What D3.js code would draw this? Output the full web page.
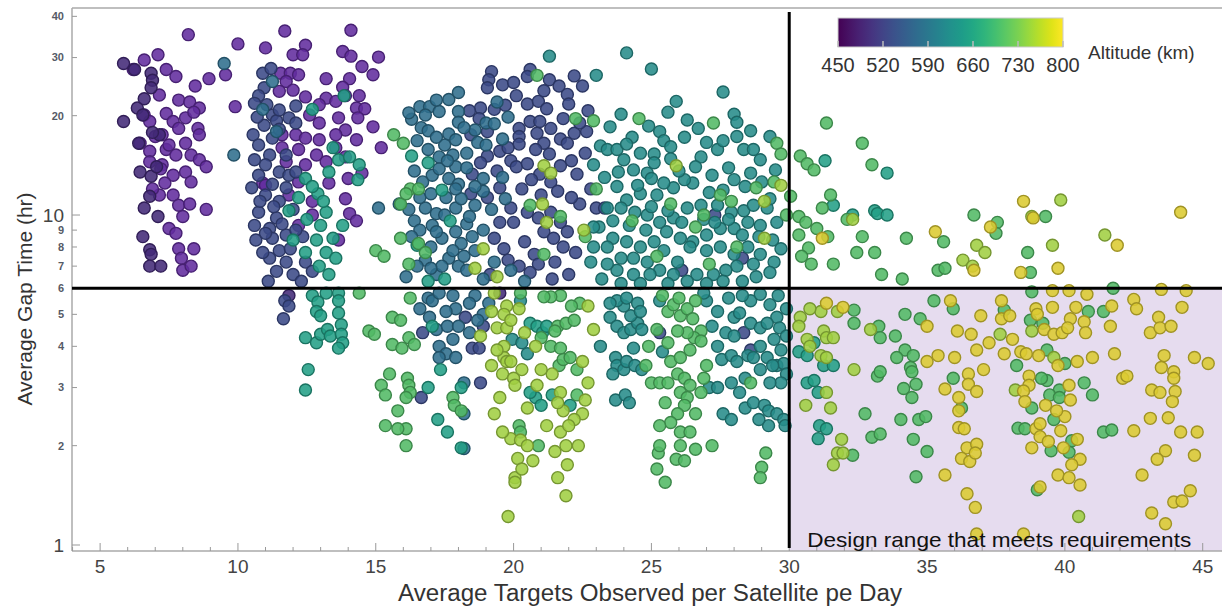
<!DOCTYPE html>
<html lang="en">
<head>
<meta charset="UTF-8">
<title>Gap time vs targets observed</title>
<script src="https://d3js.org/d3.v7.min.js"></script>
<style>
  body { margin: 0; background: #fff; }
  text { font-family: "Liberation Sans", Arial, sans-serif; }
</style>
</head>
<body>
<script>
// points as [targets per satellite per day, gap time hr], grouped by altitude (km)
var alt455 = [[8.2,35.2],[6.6,29.5],[7.1,30.6],[6.2,27.6],[7.4,27.6],[7.75,26.3],[8.95,25.9],[8.45,24.6],[7.15,23.1],[7.85,22.3],[8.25,22.0],[8.6,21.1],[6.6,20.1],[7.4,20.3],[7.65,19.2],[8.1,19.7],[8.55,18.3],[7.85,18.3],[7.0,17.3],[7.25,17.5],[8.1,16.5],[8.6,17.5],[6.8,15.6],[7.4,15.8],[7.75,15.2],[8.3,15.2],[8.6,14.7],[8.85,14.0],[6.8,14.5],[7.25,14.2],[7.65,13.2],[8.1,13.5],[8.3,12.6],[7.35,12.5],[7.15,11.5],[7.65,11.5],[7.85,10.7],[8.25,10.8],[8.85,10.4],[8.0,9.9],[7.5,9.1],[7.75,8.8],[7.85,7.9],[8.4,7.9],[7.95,7.4],[8.0,6.8],[8.3,7.0],[6.8,19.2],[6.45,16.5],[7.2,13.8],[6.9,12.0],[7.5,16.3],[8.4,20.5],
  [10.0,33.0],[11.0,32.1],[11.7,36.1],[12.45,32.7],[12.0,30.6],[12.35,30.6],[14.1,36.3],[13.8,31.3],[14.1,30.3],[15.1,30.1],[14.5,28.2],[14.9,26.6],[11.55,26.9],[11.9,26.9],[12.2,26.6],[11.75,25.4],[13.2,25.9],[14.05,25.9],[13.8,24.4],[11.5,23.7],[12.0,23.9],[12.45,22.8],[13.2,22.6],[13.55,22.1],[12.95,21.6],[13.9,23.0],[14.4,23.0],[14.3,21.1],[14.6,21.0],[9.9,21.3],[12.6,20.1],[12.95,19.0],[13.65,19.7],[14.35,19.7],[14.9,18.5],[13.9,18.1],[11.6,17.5],[12.1,17.5],[12.45,17.1],[12.95,16.9],[13.55,17.5],[14.3,16.9],[15.2,16.0],[11.6,16.0],[12.2,15.8],[12.85,15.2],[13.55,16.0],[11.75,14.5],[12.45,14.2],[13.2,14.5],[13.9,15.0],[14.5,13.4],[10.9,12.5],[12.2,12.6],[13.3,12.5],[14.0,12.9],[11.85,11.5],[12.7,11.0],[13.9,11.2],[12.7,10.0],[14.05,10.1],[14.3,9.6],[12.2,9.3],[13.65,8.4],[11.0,12.3],[9.55,26.6]];

var alt475 = [[5.85,28.8],[6.25,27.6],[6.85,26.9],[6.9,25.6],[6.85,24.3],[6.35,21.1],[6.55,20.1],[5.85,19.2],[7.15,17.5],[6.4,16.5],[6.45,13.5],[6.85,13.1],[6.8,11.4],[6.6,10.5],[7.1,9.9],[6.55,8.6],[6.8,7.85],[6.85,7.6],[6.8,7.0],[7.2,7.0],[6.9,17.8],[7.05,14.0],[6.6,22.5],[11.85,5.7],[19.5,5.8]];

var alt515 = [[10.9,26.9],[10.95,24.3],[10.75,23.0],[11.05,21.6],[11.25,20.1],[10.95,18.7],[11.4,19.3],[11.85,19.7],[10.55,17.5],[11.25,17.1],[10.75,16.3],[11.15,15.2],[11.75,15.2],[11.0,14.2],[11.5,13.5],[11.85,13.2],[10.75,13.2],[11.25,12.4],[11.75,12.1],[11.0,11.5],[11.5,11.0],[10.75,10.2],[11.4,9.8],[12.0,10.4],[11.15,9.1],[11.75,8.7],[11.25,8.5],[10.65,8.4],[11.5,7.8],[11.15,7.4],[11.75,7.2],[11.4,6.75],[12.0,6.6],[12.45,7.2],[12.35,8.6],[12.7,6.75],[11.7,5.5],[11.85,5.3],[11.65,4.85],
  [10.6,9.3],[11.0,8.8],[11.6,9.4],[12.1,9.0],[10.9,7.7],[11.9,7.9],[12.3,6.3],[11.1,6.3],[10.8,11.0],[11.3,10.6],[10.5,12.1],[12.1,13.5],[10.6,14.7],[10.7,19.8],[10.6,21.8],[11.2,27.8],[11.5,20.8],[11.5,18.2],[12.1,21.4],[12.1,19.0],
  [19.2,27.2],[19.1,25.7],[19.05,24.3],[20.6,27.6],[20.5,26.3],[21.3,25.7],[21.65,24.6],[21.95,23.2],[22.0,21.7],[22.5,24.6],[22.7,20.7],[20.1,23.0],[20.5,21.7],[20.9,22.1],[21.2,21.0],[18.8,21.1],[19.3,20.9],[18.4,20.7],[18.75,19.6],[20.2,18.3],[20.2,17.3],[20.2,16.4],[20.6,19.2],[20.95,19.2],[20.85,17.7],[21.1,16.5],[21.35,18.3],[21.7,17.0],[22.2,17.7],[21.95,16.5],[22.65,17.9],[18.45,17.5],[19.05,17.9],[19.5,15.6],[19.05,15.1],[18.8,14.4],[19.4,13.6],[18.5,13.3],[19.9,14.6],[20.1,14.0],[20.5,14.3],[20.95,13.3],[21.35,12.6],[21.6,11.8],[20.65,12.8],[20.3,12.0],[19.5,12.1],[19.05,11.3],[18.45,11.6],[19.9,10.5],[20.5,10.2],[20.9,9.8],[21.35,10.2],[21.7,9.5],[21.95,8.9],[21.1,8.9],[21.45,8.5],[21.8,8.0],[22.25,7.7],[19.5,9.5],[19.3,8.5],[19.65,7.9],[20.4,8.3],[20.75,7.6],[20.0,9.5],[21.7,14.1],[22.1,14.6],[19.15,6.6],[21.0,11.5],[23.0,10.5],[23.3,10.5],
  [20.2,7.0],[20.9,7.1],[21.5,7.2],[22.0,6.6],[21.4,6.4],[20.6,6.7],[19.8,7.3],[22.4,10.8],[22.3,13.3],[22.8,12.0],[22.1,11.3],[22.6,15.4],[21.3,15.3],[20.8,15.8],[19.8,16.0],[21.8,19.6],[22.4,19.0],[19.7,21.5],[19.6,24.8],[21.1,23.8],[22.2,26.4],[20.0,25.2],
  [18.25,4.9],[18.9,4.6],[18.5,3.95],[18.75,3.95],[18.8,3.1],[25.3,4.4],[16.65,2.8],[16.7,4.4],[28.35,4.4],[28.6,3.9],[27.3,10.0],[26.1,6.8],[28.3,7.4]];

var alt570 = [[9.5,28.8],[9.85,15.2],[11.25,25.4],[11.4,17.9],[10.9,20.9],
  [16.6,21.3],[16.95,21.3],[16.8,20.1],[17.3,20.6],[17.65,22.4],[18.0,20.6],[16.65,18.4],[17.65,17.6],[17.5,16.3],[17.9,16.9],[18.0,19.1],[17.05,13.2],[17.3,13.8],[17.65,12.9],[18.0,12.4],[16.7,12.6],[16.8,10.5],[17.2,10.1],[17.55,11.3],[17.9,10.5],[16.4,9.6],[17.05,9.3],[17.4,8.5],[17.9,8.9],[16.8,7.3],[17.2,6.6],[17.65,7.4],[18.0,7.0],[15.85,10.8],[15.1,10.5],
  [16.3,19.5],[16.9,18.0],[17.2,17.2],[16.5,16.8],[17.8,15.2],[16.9,15.8],[17.3,15.0],[17.9,14.0],[16.4,13.6],[17.6,14.6],[18.3,13.9],[18.1,11.2],[16.6,11.3],[17.0,11.6],[17.9,12.0],[16.2,10.4],[17.5,10.0],[18.3,9.4],[16.6,9.0],[17.2,8.9],[18.1,8.2],[16.3,8.6],[17.0,8.0],[17.8,7.8],[18.5,8.6],[16.5,7.0],[17.4,7.0],[18.2,7.5],[16.1,6.5],[17.0,6.9],[18.6,10.7],[18.9,11.8],[18.7,16.6],[19.0,19.0],[19.4,22.0],[18.0,23.5],[17.2,22.3],[16.2,20.4],
  [19.0,16.3],[19.3,18.9],[18.6,18.1],[19.6,17.0],[19.8,19.8],[19.2,10.4],[18.9,12.9],[19.7,11.2],[19.6,13.0],[19.3,7.2],[19.9,6.8],[20.4,6.3],[18.6,5.7],[19.1,5.4],[17.9,5.2],[18.4,5.4],[18.9,5.0],[17.2,4.5],[17.6,4.6],[16.6,5.2],[16.9,5.6],[18.0,4.6],
  [18.2,18.4],[18.3,15.4],[18.6,12.2],[18.4,9.9],[18.9,9.0],[18.6,7.8],[18.3,6.8],[18.9,6.4],
  [16.95,4.9],[17.05,5.5],[17.3,5.8],[17.8,5.7],[17.55,5.1],[17.8,4.2],[17.3,4.0],[17.55,3.8],[17.9,3.7],[17.3,3.7],
  [18.4,4.4],[18.7,4.8],[18.2,3.1],[18.2,2.5],[18.2,1.96]];

var alt620 = [[21.3,30.3],[24.1,31.0],[25.0,27.7],[23.0,26.5],[27.6,23.6],[25.9,22.1],[25.6,20.5],[23.9,20.2],[26.3,19.4],[28.0,20.2],[28.1,19.1],[25.3,17.9],[25.45,16.8],[25.7,16.1],[23.5,18.5],[23.15,16.2],[23.4,15.8],[23.75,15.8],[24.0,14.7],[24.6,15.4],[25.1,15.3],[24.35,13.7],[24.85,13.4],[25.1,14.4],[26.8,15.0],[27.4,15.8],[27.6,16.8],[28.35,15.8],[28.7,15.8],[28.95,14.7],[28.6,13.4],[28.0,12.8],[27.6,11.9],[27.1,11.7],[26.5,12.5],[26.2,12.8],[25.8,12.1],[25.45,12.5],[25.2,11.5],[24.6,11.6],[24.1,11.1],[23.75,12.2],[23.3,13.0],[23.4,10.5],[23.9,10.5],[24.4,10.2],[24.85,10.0],[25.3,9.5],[25.8,9.8],[26.3,10.5],[26.8,10.7],[27.4,10.7],[27.9,10.2],[28.35,10.3],[28.7,10.7],[29.2,10.5],[29.55,9.5],[28.95,9.3],[28.5,9.5],[28.0,9.1],[27.5,9.1],[27.0,8.7],[26.5,8.3],[26.05,8.5],[25.55,8.9],[25.1,8.3],[24.6,8.0],[24.1,8.3],[23.6,8.5],[23.4,8.0],[23.9,7.4],[24.35,7.4],[24.85,7.2],[25.45,7.8],[25.95,7.2],[26.4,8.0],[27.0,7.8],[27.5,8.0],[28.0,7.6],[28.5,8.0],[28.95,7.6],[29.45,7.2],[28.7,7.1],[28.1,7.0],[27.7,6.8],[27.25,6.6],[26.65,6.6],[25.8,6.6],[25.3,6.8],[24.95,6.6],[24.35,6.6],[23.75,6.8],[23.4,7.1],[22.9,8.0],[22.8,7.2],
  [23.1,9.2],[23.6,9.6],[24.2,9.3],[24.8,9.0],[25.0,10.6],[25.6,10.3],[26.1,9.5],[26.9,9.7],[27.3,9.5],[27.8,9.7],[28.3,8.7],[28.9,8.6],[29.4,8.4],[29.7,7.9],[29.3,6.7],[28.8,6.5],[28.3,6.3],[27.6,6.3],[27.0,6.2],[26.3,6.3],[25.6,6.2],[24.6,6.2],[23.9,6.2],[23.2,6.4],[22.9,9.2],[24.5,12.3],[25.0,12.9],[26.0,13.6],[26.6,14.0],[27.2,13.2],[27.8,13.9],[28.4,12.2],[29.0,12.6],[29.5,13.7],[29.3,11.2],[27.0,16.6],[26.2,17.2],[26.7,18.3],[24.3,17.2],[24.9,18.6],[24.1,16.4],[23.8,13.5],[22.9,14.2],[25.7,14.8],[28.1,17.3],[28.6,18.0],[29.3,17.3],
  [20.25,5.5],[19.95,4.2],[20.3,4.1],[20.5,3.8],[23.5,4.9],[23.75,4.6],[24.0,4.4],[24.25,4.5],[24.5,4.7],[24.65,4.5],[24.25,4.95],[24.0,5.3],[23.75,5.5],[24.1,5.6],[24.5,5.4],[24.6,5.1],[23.5,5.4],[23.15,4.0],[24.35,3.95],[23.7,3.7],[23.75,3.5],[23.6,3.3],[24.0,3.4],[24.1,3.6],[24.4,3.5],[24.65,3.4],[23.7,2.75],[24.05,2.85],[24.2,2.7],[25.3,5.5],[25.4,3.85],
  [27.1,3.0],[27.4,3.0],[27.4,4.0],[27.55,3.65],[27.9,3.75],[28.1,3.6],[28.5,3.75],[28.7,3.7],[28.95,4.0],[28.6,4.7],[28.95,4.55],[28.0,4.9],[28.2,5.05],[28.6,5.5],[28.95,5.75],[29.3,5.35],[29.55,4.9],[29.65,4.55],[29.2,4.7],[29.45,4.2],[29.7,3.9],[29.2,3.7],[29.55,3.5],[29.8,3.55],[29.9,3.3],[29.7,3.1],[29.3,3.1],[28.95,3.4],[28.4,2.6],[28.7,2.7],[29.1,2.65],[29.25,2.55],[29.55,2.5],[29.8,2.4],[29.85,2.3],[29.25,2.3],[28.9,2.4],[27.6,2.5],[27.9,2.4],
  [27.0,5.5],[27.4,5.1],[27.8,5.6],[27.2,4.6],[27.7,4.4],[26.9,5.8],[28.3,5.7],[28.0,4.3],[29.6,5.7],[29.9,5.2],[29.9,4.3],[29.4,3.5],[28.4,3.2],[27.9,3.1],[28.2,2.9]];

var alt650 = [[12.7,20.9],[13.85,23.0],[13.45,16.0],[13.65,14.7],[14.05,15.0],[13.3,13.5],[14.4,14.2],[14.35,12.8],[12.45,12.9],[12.9,11.6],[13.2,10.2],[13.8,9.3],[13.0,9.3],[13.45,8.5],[12.85,8.4],[13.2,7.7],[13.55,7.4],[12.95,7.0],[13.3,6.6],[11.85,10.3],[12.0,8.4],[12.45,7.7],
  [12.2,11.3],[12.7,12.2],[12.5,9.7],[13.1,11.0],
  [12.7,5.7],[12.9,5.45],[12.85,5.1],[13.0,4.95],[13.2,5.8],[13.65,5.8],[13.65,5.5],[13.65,5.05],[13.75,4.65],[12.45,4.25],[12.85,4.1],[13.0,4.35],[13.25,4.5],[13.35,4.3],[13.75,4.35],[13.8,4.1],[13.65,3.95],[12.55,3.4],[12.45,2.95],
  [17.05,4.6],[17.35,3.4],[17.25,2.4],[17.6,2.2],[18.1,3.0],[18.1,1.97],[16.9,3.0],
  [16.3,15.1],[16.9,14.4],[17.4,11.9],[16.5,8.1],[17.7,9.6],[16.9,6.3],[17.5,6.4],
  [20.6,4.7],[20.85,4.6],[21.05,4.4],[21.2,4.6],[20.8,2.8],[20.6,2.9],[21.0,2.65],[21.4,2.85],[22.05,2.65],
  [31.3,14.6],[31.6,10.7],[30.9,4.1],[30.35,3.85],[30.65,3.75],[31.25,3.5],[31.6,3.5],[30.65,3.1],[30.9,3.15],[31.05,2.9],[31.1,2.3],[31.35,2.25],[31.05,2.1],
  [33.55,13.4],[33.1,10.3],[33.2,10.1],[33.55,10.0],[32.3,10.0]];

var alt705 = [[15.65,17.5],[16.0,16.5],[16.25,12.0],[16.55,12.0],[15.9,10.8],[16.1,11.6],[15.0,7.8],[15.3,7.5],[15.9,8.5],[16.2,7.1],[16.55,8.2],[16.8,7.7],
  [14.4,5.8],[14.75,4.45],[14.95,4.35],[15.6,4.9],[15.9,4.8],[16.25,5.6],[15.6,4.05],[15.95,3.95],[16.2,4.25],[16.4,4.05],[15.5,3.3],[15.2,3.05],[15.35,2.85],[16.15,3.2],[16.2,3.05],[16.25,2.9],[16.1,2.8],[15.8,2.55],[16.1,2.25],[15.8,2.25],[15.35,2.3],[16.1,2.0],[17.8,2.8],[17.85,2.65],[18.1,2.55],
  [22.25,19.6],[20.85,26.5],[22.9,19.3],[24.55,19.6],[27.25,19.0],[29.55,16.5],[29.7,15.3],[26.9,10.0],[27.5,11.5],[28.1,8.0],[20.6,10.7],[21.7,9.9],[21.1,7.6],[29.45,12.6],[30.05,11.4],
  [24.3,9.6],[25.2,7.5],[26.6,9.2],[27.9,11.0],[28.8,12.1],[29.9,10.0],[23.0,12.0],[22.6,8.6],[27.1,7.1],[25.7,10.8],
  [31.35,19.0],[30.4,15.1],[30.65,14.3],[30.9,13.7],[31.5,11.5],[31.2,10.5],[30.35,9.9],[30.6,9.5],[31.0,9.1],[31.4,8.6],[30.35,8.7],[30.7,7.95],[30.45,7.5],[30.8,7.1],[31.6,7.1],[32.1,9.7],
  [32.65,16.5],[33.0,14.2],[32.65,8.6],[32.45,7.7],[33.1,7.7],[34.25,8.5],[35.6,8.3],[36.7,10.0],[37.55,9.5],[37.5,8.8],[38.65,7.7],[39.3,9.9],[38.75,6.7],[35.4,6.8],[35.65,6.9],[33.35,6.6],[34.1,6.4],
  [25.6,5.1],[25.8,5.35],[26.05,4.95],[26.3,5.2],[26.5,4.85],[26.8,4.45],[26.55,4.25],[26.3,4.4],[25.95,4.45],[25.6,4.1],[25.7,3.6],[26.05,3.7],[26.4,3.9],[26.8,4.15],[25.95,3.3],[26.2,3.2],[26.4,3.05],[26.05,2.9],[26.3,2.8],[26.2,2.65],[25.95,2.5],[25.7,2.35],[25.3,2.3],[26.05,2.2],[26.4,2.2],[25.0,3.1],[25.3,3.1],[25.6,3.1],[25.25,1.9],[25.5,1.55],[25.9,1.82],[26.2,1.8],[26.05,2.0],[26.8,2.9],
  [25.4,5.7],[26.0,5.6],[26.6,5.5],[27.0,3.5],[26.9,3.2],[25.2,4.5],[24.9,4.0],[25.5,2.7],[25.3,2.0],[26.6,2.5],[26.6,1.95],[27.2,2.0],[25.2,1.7],
  [28.6,3.1],[29.15,1.9],[29.0,1.72],[28.95,1.6],[24.8,3.5],[20.25,5.8],
  [21.6,4.6],[21.9,4.7],[22.2,4.8],[22.4,5.4],[22.1,5.3],[21.7,5.7],[21.35,5.65],[21.1,5.65],[21.0,4.25],[21.35,4.0],[21.7,3.95],[21.5,4.45],[21.65,3.5],[21.8,3.65],[22.05,3.7],[22.3,3.4],[22.3,2.85],[20.2,2.3],[20.25,2.2],[20.9,2.0],
  [32.35,5.15],[32.35,4.7],[33.25,4.6],[33.3,4.25],[33.85,4.3],[34.2,5.0],[34.75,4.85],[35.25,5.5],[35.95,5.2],[37.8,5.15],[38.75,4.8],[39.2,4.7],[38.8,5.85],[40.85,5.1],[41.4,5.1],[41.75,6.0],
  [34.2,3.9],[33.9,3.7],[34.5,3.75],[34.4,3.45],[34.45,3.35],[33.2,3.25],[33.3,3.35],[38.25,3.5],[39.35,3.9],[40.0,3.55],[40.7,3.1],[41.0,2.85],[39.8,2.95],[39.35,3.15],[39.15,3.2],[35.95,3.2],[34.15,2.98],[34.6,3.07],[34.45,2.8],[36.25,2.6],[39.45,2.85],[39.8,2.8],[38.8,2.6],[39.6,2.4],
  [32.75,2.5],[34.05,2.4],[34.7,2.4],[34.95,2.45],[33.0,2.12],[33.3,2.17],[34.5,2.09],[35.0,1.92],[38.3,2.26],[38.55,2.25],[39.5,1.93],[40.25,2.07],[40.15,1.91],[41.4,2.2],[41.7,2.23],[34.6,1.61],[39.0,1.47],[32.3,1.87]];

var alt750 = [[18.8,4.3],[19.75,5.3],[19.65,5.0],[19.4,4.55],[19.75,4.55],[19.65,4.0],[19.65,3.7],[19.75,3.6],[19.6,3.3],[20.0,3.2],[20.05,3.05],[19.5,2.8],[19.9,4.8],[19.9,2.1],[20.25,2.08],[20.5,2.0],[19.6,2.2],[20.15,1.83],[20.05,1.6],[20.05,1.55],[19.8,1.22],[21.5,1.92],[21.9,2.0],[22.35,2.0],[21.7,2.2],[21.95,1.75],[21.9,1.41],
  [21.8,2.55],[22.5,2.5],[22.2,2.4],[22.6,2.75],[21.7,2.9],[20.85,3.05],
  [19.3,5.8],[19.2,5.1],[20.2,5.2],[20.4,4.4],[20.8,4.0],[21.4,3.3],[21.0,3.4],[20.5,2.6],[21.2,2.3],[21.6,2.7],[19.4,3.9],[19.2,3.5],[19.9,3.6],[20.3,3.4],[19.3,2.5],[20.7,1.8],[20.3,1.7],[21.6,1.6],[22.0,2.3],[22.7,3.1],[22.5,3.6],[22.9,4.5],[22.7,5.3],
  [21.1,14.1],[21.35,13.4],[21.05,10.8],[21.2,9.5],[22.55,9.0],[18.9,7.9],[18.6,6.9],[19.4,6.5],[25.9,14.1],[29.1,11.0],[29.1,8.5],[29.7,12.3],
  [32.95,4.5],[37.65,4.35],[38.8,4.45],[39.6,3.7],[38.2,2.95],[32.35,3.4],[40.5,1.22],
  [31.15,5.1],[31.75,5.1],[30.65,4.2],[31.25,4.45],[31.35,4.25],[31.6,4.25],[31.15,3.75],[31.35,3.7],[31.35,2.9],[30.6,2.65],[31.5,2.6],[31.9,2.09],[31.75,1.9],[31.95,1.9],[31.6,1.75],[30.75,5.2],[30.4,4.9],[30.35,4.6],[30.75,4.0],
  [32.3,9.7],[36.8,8.1],[37.1,7.7],[36.3,7.3],[36.65,7.0],[39.55,8.1],[41.45,8.7],[38.8,9.9],[39.85,11.1]];

var alt790 = [[31.2,8.5],[35.3,8.9],[37.3,9.2],[38.5,11.0],[38.85,9.8],[41.9,8.1],[39.75,6.9],[38.4,6.7],[36.7,6.8],[44.2,10.2],[31.35,5.4],[31.95,5.25],
  [35.0,4.6],[35.85,5.5],[36.1,4.45],[36.6,4.35],[36.95,4.95],[37.25,4.1],[37.7,5.5],[37.7,4.85],[38.0,4.95],[38.1,4.2],[38.95,5.2],[39.0,5.0],[39.25,4.5],[39.55,5.25],[39.6,4.35],[39.9,4.4],[40.2,4.85],[40.1,4.55],[39.55,5.9],[40.15,5.9],[40.8,5.75],[40.4,5.25],[40.7,4.75],[40.75,4.4],[41.7,5.3],[41.65,4.6],[42.5,5.55],[42.6,5.2],[43.5,5.95],[44.4,5.9],[44.25,5.25],[43.4,4.9],[43.1,4.4],[43.45,4.55],[43.85,4.6],
  [35.0,3.6],[35.4,3.75],[36.0,3.7],[36.8,3.9],[37.8,3.8],[38.4,3.85],[38.6,3.8],[39.05,3.75],[39.75,3.5],[40.45,3.6],[41.0,3.7],[41.8,3.8],[43.6,3.75],[44.7,3.7],[45.2,3.55],[43.5,3.45],[43.95,3.35],[43.95,3.2],[42.1,3.2],[42.25,3.25],[40.15,3.05],[38.7,3.25],[38.7,3.05],[38.5,2.93],[37.05,3.4],[36.5,3.3],[36.5,3.07],[36.8,2.92],[35.65,2.97],[36.15,2.8],[36.15,2.55],[40.2,2.75],[38.55,2.72],[39.3,2.65],[40.0,2.45],[39.7,2.55],[43.15,2.95],[43.45,2.9],[44.0,2.92],[43.9,2.72],[43.1,2.42],[43.75,2.43],
  [36.15,2.27],[36.35,2.25],[36.45,1.97],[36.8,2.02],[36.25,1.83],[36.55,1.79],[36.75,1.9],[38.95,2.25],[39.1,2.33],[39.1,2.13],[39.4,2.06],[38.8,1.97],[39.85,2.22],[39.95,1.97],[40.45,2.09],[40.55,1.82],[40.25,1.75],[42.5,2.22],[44.2,2.2],[44.8,2.2],[43.65,1.93],[43.35,1.82],[44.7,1.87],[42.8,1.63],[35.65,1.63],[36.45,1.43],[36.75,1.3],[39.1,1.5],[39.75,1.63],[40.15,1.6],[40.55,1.52],[44.55,1.46],[43.95,1.35],[44.25,1.36],[43.15,1.25],[43.65,1.16],[36.8,1.08],[38.5,1.08]];

var altitudes = [455, 475, 515, 570, 620, 650, 705, 750, 790];
var groups = [alt455, alt475, alt515, alt570, alt620, alt650, alt705, alt750, alt790];

var xTickLabels = [5, 10, 15, 20, 25, 30, 35, 40, 45];
var yTickLabels = [1, 2, 3, 4, 5, 6, 7, 8, 9, 10, 20, 30, 40];
var barTicks = [450, 520, 590, 660, 730, 800];
var gapLimit = 6, targetLimit = 30;

var W = 1224, H = 607;
var pL = 72, pR = 1222, pT = 8, pB = 551;

var x = d3.scaleLinear().domain([3.98, 45.7]).range([pL, pR]);
var y = d3.scaleLog().domain([0.959, 42.4]).range([pB, pT]);

// viridis for the bar, a lighter take for the dots
var barColor = d3.scaleSequential(d3.interpolateViridis).domain([450, 800]);
var dotColor = d3.scaleLinear()
    .domain([450, 480, 520, 590, 660, 730, 760, 800])
    .range(["#6a2ca8", "#3b2a6e", "#3b4f8c", "#2a7a8e", "#22a585", "#6cc653", "#bcd33a", "#e6c82e"]);

var rows = [];
groups.forEach(function(g, i) {
  g.forEach(function(p) { rows.push({ t: p[0], gap: p[1], alt: altitudes[i] }); });
});

var svg = d3.select("body").append("svg")
    .attr("width", W).attr("height", H)
    .style("background", "#fff");

// shaded design region
svg.append("rect")
    .attr("x", x(targetLimit)).attr("y", y(gapLimit))
    .attr("width", pR - x(targetLimit)).attr("height", pB - y(gapLimit))
    .attr("fill", "#e6dcef");

// frame
svg.append("line").attr("x1", pL).attr("x2", pR).attr("y1", pT).attr("y2", pT)
    .attr("stroke", "#aaa").attr("stroke-width", 1.5);
svg.append("line").attr("x1", pL).attr("x2", pL).attr("y1", pT).attr("y2", pB)
    .attr("stroke", "#aaa").attr("stroke-width", 1.5);
svg.append("line").attr("x1", pL).attr("x2", pR).attr("y1", pB).attr("y2", pB)
    .attr("stroke", "#aaa").attr("stroke-width", 1.5);

// x ticks (inside)
var xt = d3.range(4, 46);
svg.selectAll(".xt").data(xt).join("line")
    .attr("x1", d => x(d)).attr("x2", d => x(d))
    .attr("y1", pB).attr("y2", d => d % 5 === 0 ? pB - 8 : pB - 4)
    .attr("stroke", "#999");
svg.selectAll(".xl").data(xTickLabels).join("text")
    .attr("x", d => x(d)).attr("y", pB + 22)
    .attr("text-anchor", "middle").attr("font-size", 19).attr("fill", "#444")
    .text(d => d);

// y ticks (inside)
svg.selectAll(".yt").data(yTickLabels).join("line")
    .attr("x1", pL).attr("x2", d => (d === 1 || d === 10) ? pL + 8 : pL + 5)
    .attr("y1", d => y(d)).attr("y2", d => y(d))
    .attr("stroke", "#999");
svg.selectAll(".yl").data(yTickLabels).join("text")
    .attr("x", pL - 8).attr("y", d => y(d))
    .attr("dy", "0.35em")
    .attr("text-anchor", "end")
    .attr("font-size", d => (d === 1 || d === 10) ? 19 : 11)
    .attr("font-weight", d => (d === 1 || d === 10) ? "normal" : "bold")
    .attr("fill", d => (d === 1 || d === 10) ? "#444" : "#555a66")
    .text(d => d);

// dots
svg.append("g").selectAll("circle").data(rows).join("circle")
    .attr("cx", d => x(d.t)).attr("cy", d => y(d.gap)).attr("r", 6)
    .attr("fill", d => dotColor(d.alt)).attr("fill-opacity", 0.88)
    .attr("stroke", d => d3.color(dotColor(d.alt)).darker(0.9)).attr("stroke-width", 1.4);

// requirement lines
svg.append("line").attr("x1", pL).attr("x2", pR)
    .attr("y1", y(gapLimit)).attr("y2", y(gapLimit))
    .attr("stroke", "#000").attr("stroke-width", 3);
svg.append("line").attr("x1", x(targetLimit)).attr("x2", x(targetLimit))
    .attr("y1", 12).attr("y2", pB - 3)
    .attr("stroke", "#000").attr("stroke-width", 3);

svg.append("text").attr("x", x(targetLimit) + 18).attr("y", pB - 4)
    .attr("font-size", 21).attr("fill", "#111")
    .attr("textLength", 384).attr("lengthAdjust", "spacingAndGlyphs")
    .text("Design range that meets requirements");

// axis titles
svg.append("text").attr("x", 650).attr("y", 601)
    .attr("text-anchor", "middle").attr("font-size", 23).attr("fill", "#333")
    .attr("textLength", 504).attr("lengthAdjust", "spacingAndGlyphs")
    .text("Average Targets Observed per Satellite pe Day");
svg.append("text").attr("transform", "translate(32,299) rotate(-90)")
    .attr("text-anchor", "middle").attr("font-size", 21).attr("fill", "#333")
    .text("Average Gap Time (hr)");

// colour bar
var bx = d3.scaleLinear().domain([450, 800]).range([838, 1063]);
var grad = svg.append("defs").append("linearGradient").attr("id", "vir");
d3.range(0, 1.001, 0.05).forEach(function(t) {
  grad.append("stop").attr("offset", t).attr("stop-color", barColor(450 + t * 350));
});
svg.append("rect").attr("x", bx(450)).attr("y", 18)
    .attr("width", bx(800) - bx(450)).attr("height", 29)
    .attr("fill", "url(#vir)").attr("stroke", "#ccc").attr("stroke-width", 1);
svg.selectAll(".bt").data(barTicks).join("line")
    .attr("x1", d => bx(d)).attr("x2", d => bx(d))
    .attr("y1", 47).attr("y2", 41)
    .attr("stroke", "#bbb").attr("stroke-width", 1.5);
svg.selectAll(".bl").data(barTicks).join("text")
    .attr("x", d => bx(d)).attr("y", 72)
    .attr("text-anchor", "middle").attr("font-size", 20).attr("fill", "#333")
    .text(d => d);
svg.append("text").attr("x", 1088).attr("y", 59)
    .attr("font-size", 19).attr("fill", "#333")
    .text("Altitude (km)");
</script>
</body>
</html>
